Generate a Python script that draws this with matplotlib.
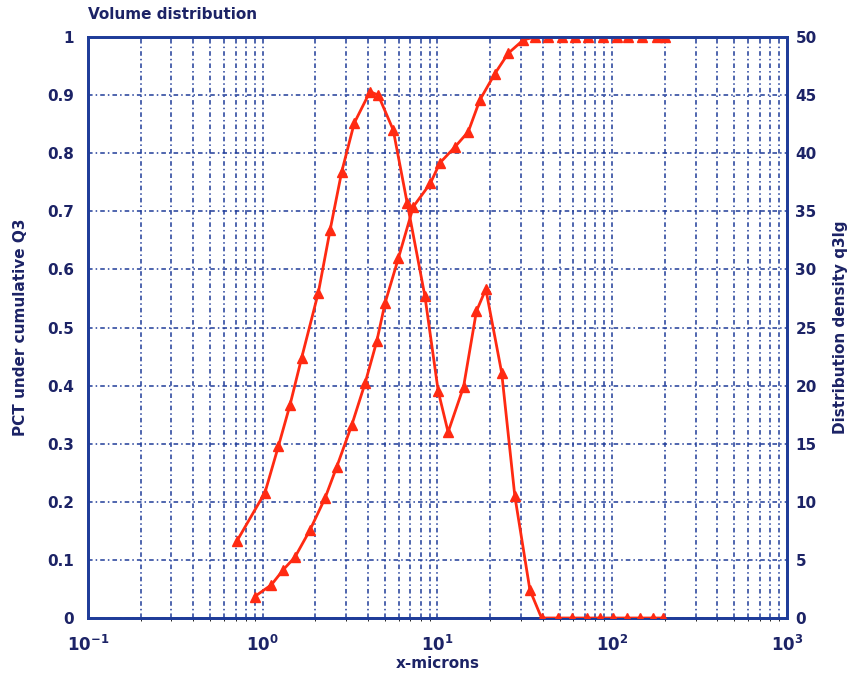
import matplotlib
matplotlib.use("Agg")
import matplotlib.pyplot as plt
from matplotlib.ticker import LogLocator, MultipleLocator, NullFormatter

# cumulative Q3 (left axis, fraction)
cum_x = [0.90, 1.12, 1.31, 1.53, 1.86, 2.27, 2.65, 3.23, 3.85, 4.49, 5.01, 5.97,
         7.27, 9.1, 10.3, 12.6, 15.0, 17.5, 21.3, 25.4, 31.0, 36.1, 42.9, 51.6,
         61.2, 72.6, 88.5, 106.0, 123.0, 148.0, 180.0, 200.0]
cum_q3 = [0.037, 0.057, 0.083, 0.105, 0.151, 0.206, 0.260, 0.332, 0.404, 0.476,
          0.542, 0.619, 0.708, 0.748, 0.783, 0.811, 0.837, 0.892, 0.937, 0.972,
          0.995, 1.0, 1.0, 1.0, 1.0, 1.0, 1.0, 1.0, 1.0, 1.0, 1.0, 1.0]

# density q3lg (right axis)
dens_x = [0.71, 1.03, 1.23, 1.43, 1.67, 2.08, 2.43, 2.83, 3.34, 4.11, 4.58, 5.58,
          6.71, 8.47, 10.1, 11.5, 14.1, 16.7, 18.9, 23.3, 27.7, 33.8, 39.4,
          49.0, 58.9, 71.8, 85.2, 101.0, 121.0, 144.0, 171.0, 195.0]
dens_q3 = [6.6, 10.8, 14.8, 18.3, 22.4, 28.0, 33.4, 38.4, 42.6, 45.3, 45.0, 42.0,
           35.7, 27.7, 19.5, 16.0, 19.9, 26.4, 28.3, 21.1, 10.5, 2.4, 0.0,
           0.0, 0.0, 0.0, 0.0, 0.0, 0.0, 0.0, 0.0, 0.0]

yticks_left = [0, 0.1, 0.2, 0.3, 0.4, 0.5, 0.6, 0.7, 0.8, 0.9, 1]
ylabels_left = ['0', '0.1', '0.2', '0.3', '0.4', '0.5', '0.6', '0.7', '0.8', '0.9', '1']

blue = '#1f3c99'
txt = '#1c2366'
red = '#ff2a12'

plt.rcParams['font.family'] = ['DejaVu Sans']
plt.rcParams['font.weight'] = 'bold'

fig = plt.figure(figsize=(8.51, 6.78), dpi=100)
ax = fig.add_axes([0.1034, 0.0885, 0.8214, 0.8569])
ax2 = ax.twinx()

ax.set_xscale('log')
ax.set_xlim(0.1, 1000)
ax.set_ylim(0, 1)
ax2.set_ylim(0, 50)

ax.xaxis.set_major_locator(LogLocator(base=10, numticks=10))
ax.xaxis.set_minor_locator(LogLocator(base=10, subs=range(2, 10), numticks=50))
ax.xaxis.set_minor_formatter(NullFormatter())
ax.set_yticks(yticks_left)
ax.set_yticklabels(ylabels_left)
ax2.yaxis.set_major_locator(MultipleLocator(5))

ax.grid(which='both', color=blue, linestyle=(0, (3, 2, 1, 2)), linewidth=1.1)

ax.plot(cum_x, cum_q3, color=red, lw=2, marker='^', ms=6.5, zorder=3)
ax2.plot(dens_x, dens_q3, color=red, lw=2, marker='^', ms=6.5, zorder=3)

for a in (ax, ax2):
    for s in a.spines.values():
        s.set_color(blue)
        s.set_linewidth(2)
    a.tick_params(length=0, labelsize=11, colors=txt)
ax.tick_params(axis='x', pad=12, labelsize=12)
ax.tick_params(axis='y', pad=10)
ax2.tick_params(axis='y', pad=6)

ax.set_xlabel('x-microns', fontsize=11, color=txt, fontweight='bold', labelpad=1)
ax.set_ylabel('PCT under cumulative Q3', fontsize=11, color=txt, fontweight='bold', labelpad=14)
ax2.set_ylabel('Distribution density q3lg', fontsize=11, color=txt, fontweight='bold', labelpad=12)
fig.text(0.1034, 0.978, 'Volume distribution', fontsize=11, color=txt,
         fontweight='bold', ha='left', va='center')

fig.savefig('out.png', dpi=100)
